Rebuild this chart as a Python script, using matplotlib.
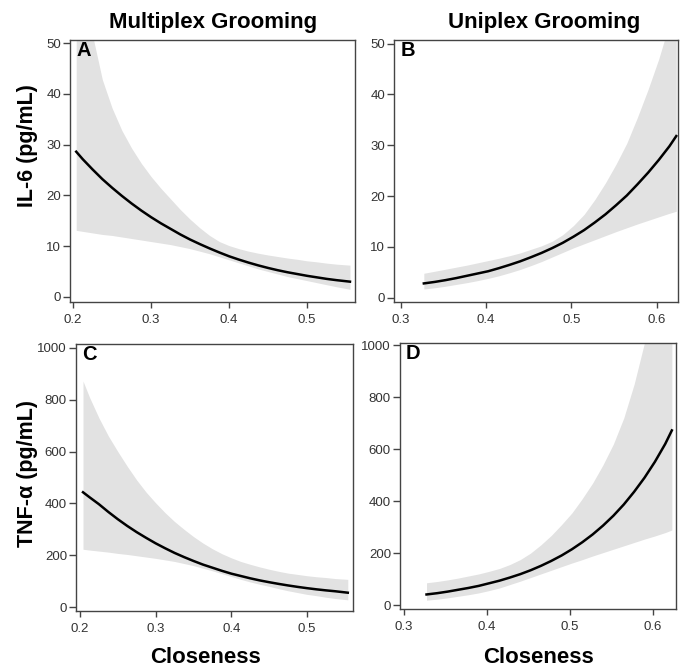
import matplotlib
matplotlib.use("Agg")
import matplotlib.pyplot as plt

plt.rcParams['font.family'] = ['Liberation Sans', 'DejaVu Sans']

# closeness values where the curves were read (multiplex / uniplex panels)
multi_x = [0.204, 0.2125, 0.225, 0.2375, 0.25, 0.2625, 0.275, 0.2875, 0.30, 0.3125,
           0.325, 0.3375, 0.35, 0.3625, 0.375, 0.3875, 0.40, 0.4125, 0.425, 0.4375,
           0.45, 0.4625, 0.475, 0.4875, 0.50, 0.5125, 0.525, 0.5375, 0.555]
uni_x = [0.327, 0.34, 0.3525, 0.365, 0.3775, 0.39, 0.4025, 0.415, 0.4275, 0.44,
         0.4525, 0.465, 0.4775, 0.49, 0.5025, 0.515, 0.5275, 0.54, 0.5525, 0.565,
         0.5775, 0.59, 0.6025, 0.615, 0.623]

# A - IL-6, multiplex grooming
a_fit = [28.6, 27.1, 25.1, 23.2, 21.5, 19.9, 18.4, 17.0, 15.7, 14.5,
         13.4, 12.3, 11.3, 10.4, 9.55, 8.75, 8.0, 7.35, 6.75, 6.2,
         5.7, 5.25, 4.85, 4.5, 4.15, 3.85, 3.55, 3.3, 3.0]
a_hi = [74, 63, 51.5, 42.8, 37.2, 32.8, 29.3, 26.3, 23.7, 21.4,
        19.3, 17.2, 15.3, 13.6, 12.1, 10.9, 10.1, 9.5, 9.0, 8.6,
        8.25, 7.95, 7.65, 7.4, 7.1, 6.9, 6.65, 6.45, 6.25]
a_lo = [13.1, 12.9, 12.6, 12.3, 12.1, 11.8, 11.5, 11.2, 10.9, 10.6,
        10.3, 9.9, 9.5, 9.0, 8.5, 7.9, 7.3, 6.7, 6.1, 5.5,
        5.0, 4.5, 4.0, 3.6, 3.2, 2.8, 2.4, 2.0, 1.5]

# B - IL-6, uniplex grooming
b_fit = [2.8, 3.1, 3.45, 3.85, 4.3, 4.75, 5.2, 5.8, 6.45, 7.15,
         7.95, 8.8, 9.75, 10.8, 12.0, 13.3, 14.8, 16.4, 18.2, 20.1,
         22.3, 24.6, 27.1, 29.8, 31.8]
b_hi = [4.8, 5.2, 5.6, 6.0, 6.4, 6.85, 7.3, 7.75, 8.25, 8.8,
        9.5, 10.2, 11.1, 12.4, 14.2, 16.4, 19.3, 22.6, 26.3, 30.4,
        35.5, 41.0, 47.0, 54, 58]
b_lo = [1.7, 1.95, 2.25, 2.6, 2.95, 3.35, 3.8, 4.3, 4.9, 5.55,
        6.3, 7.1, 8.0, 8.9, 9.8, 10.6, 11.4, 12.2, 13.0, 13.75,
        14.5, 15.2, 15.9, 16.6, 17.0]

# C - TNF-a, multiplex grooming
c_fit = [443, 424, 397, 367, 339, 313, 289, 267, 246, 227,
         209, 193, 178, 164, 152, 140, 129, 120, 111, 103,
         96, 89.5, 83.5, 78, 73, 68.5, 64.5, 61, 55.5]
c_hi = [872, 810, 730, 660, 600, 543, 490, 443, 402, 364,
        330, 300, 272, 247, 225, 206, 190, 176, 165, 155,
        146, 138, 131, 126, 121, 117, 114, 110, 107]
c_lo = [223, 220, 216, 212, 207, 203, 198, 193, 188, 182,
        176, 168, 160, 150, 140, 129, 118, 107, 97, 88,
        80, 71, 63, 56, 49, 44, 38, 33, 28]

# D - TNF-a, uniplex grooming
d_fit = [41, 46, 52, 59, 66, 74, 84, 94, 106, 119,
         134, 151, 170, 191, 215, 242, 272, 306, 344, 387,
         436, 490, 551, 620, 672]
d_hi = [86, 91, 97, 104, 112, 120, 130, 141, 156, 175,
        200, 232, 268, 310, 355, 410, 470, 540, 620, 720,
        850, 1010, 1200, 1400, 1550]
d_lo = [19, 23, 28, 34, 40, 47, 56, 66, 79, 92,
        106, 120, 134, 148, 162, 175, 189, 202, 215, 228,
        241, 254, 266, 279, 289]

il6_ticks = [0, 10, 20, 30, 40, 50]
tnf_ticks = [0, 200, 400, 600, 800, 1000]
multi_xticks = [0.2, 0.3, 0.4, 0.5]
uni_xticks = [0.3, 0.4, 0.5, 0.6]

fig = plt.figure(figsize=(6.82, 6.70), dpi=100)

panels = [
    ('A', multi_x, a_fit, a_hi, a_lo, [0.1026, 0.5493, 0.418, 0.391], (0.196, 0.5615), (-1.0, 50.6), il6_ticks, multi_xticks),
    ('B', uni_x, b_fit, b_hi, b_lo, [0.5777, 0.5493, 0.4164, 0.391], (0.292, 0.625), (-0.85, 50.7), il6_ticks, uni_xticks),
    ('C', multi_x[:-1] + [0.554], c_fit, c_hi, c_lo, [0.1114, 0.0881, 0.406, 0.3985], (0.1947, 0.5607), (-15, 1015), tnf_ticks, multi_xticks),
    ('D', uni_x, d_fit, d_hi, d_lo, [0.5865, 0.091, 0.4047, 0.397], (0.295, 0.628), (-15, 1008), tnf_ticks, uni_xticks),
]

for letter, x, fit, hi, lo, rect, xl, yl, yt, xt in panels:
    ax = fig.add_axes(rect)
    ax.fill_between(x, lo, hi, color='#e2e2e2', linewidth=0)
    ax.plot(x, fit, color='black', linewidth=1.8)
    ax.set_xlim(*xl)
    ax.set_ylim(*yl)
    ax.set_xticks(xt)
    ax.set_xticklabels([f'{v:.1f}' for v in xt])
    ax.set_yticks(yt)
    for sp in ax.spines.values():
        sp.set_color('#444444')
        sp.set_linewidth(1.0)
    ax.tick_params(axis='y', length=5, width=1, color='#444444', labelsize=9.5,
                   labelcolor='#333333', pad=1.5)
    ax.tick_params(axis='x', length=4, width=1, color='#444444', labelsize=9.5,
                   labelcolor='#333333', pad=4.5)
    ax.text(0.022, 0.995, letter, transform=ax.transAxes, ha='left', va='top',
            fontsize=14.5, fontweight='bold')

fig.text(0.312, 0.967, 'Multiplex Grooming', ha='center', va='center', fontsize=16, fontweight='bold')
fig.text(0.798, 0.967, 'Uniplex Grooming', ha='center', va='center', fontsize=16, fontweight='bold')
fig.text(0.041, 0.783, 'IL-6 (pg/mL)', ha='center', va='center', rotation=90, fontsize=15.5, fontweight='bold')
fig.text(0.041, 0.293, 'TNF-α (pg/mL)', ha='center', va='center', rotation=90, fontsize=15.5, fontweight='bold')
fig.text(0.301, 0.018, 'Closeness', ha='center', va='center', fontsize=16, fontweight='bold')
fig.text(0.790, 0.018, 'Closeness', ha='center', va='center', fontsize=16, fontweight='bold')

plt.savefig('out.png', dpi=100)
